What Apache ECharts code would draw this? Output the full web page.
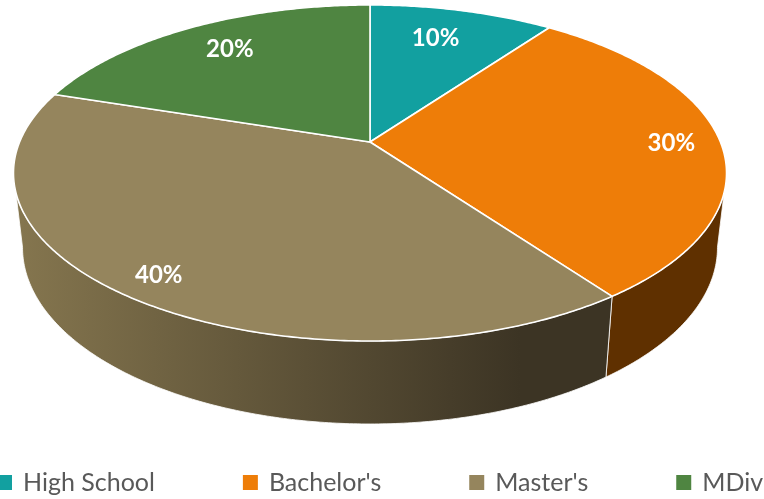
<!DOCTYPE html>
<html><head><meta charset="utf-8">
<style>html,body{margin:0;padding:0;background:#fff}#c{width:764px;height:499px}</style>
<script src="https://cdn.jsdelivr.net/npm/echarts@6/dist/echarts.min.js"></script>
</head><body><div id="c"></div>
<script>
const categories = ["High School", "Bachelor's", "Master's", "MDiv"];
const values = [10, 30, 40, 20];
const topColors = ["#12A0A0", "#EE7D08", "#95855D", "#4F8541"];
const wallStarts = ["#0a5a5a", "#5F3000", "#84754E", "#2c4a24"];
const wallEnds = ["#0a5a5a", "#5F3000", "#3C3424", "#2c4a24"];

// Perspective projection of the unit disc (top and bottom faces)
const K = 0.1845;
const TOP = {cx: 370, cy: 142, a: 350.4, b: 162.3};
const BOT = {cx: 370, cy: 214.9, a: 341.5, b: 170.5};
const labelRadius = [0.76, 0.86, 0.875, 0.80];
const labelNudgeX = [-7, 0, -4, 7];
const labelNudgeY = [0, 1, 1, 1];
const FRONT_A = Math.PI/2 + Math.asin(K), FRONT_B = 3*Math.PI/2 - Math.asin(K);

function project(F, t, r) {
  const u = Math.sin(t)*r, v = Math.cos(t)*r, w = 1 + K*v;
  return [F.cx + F.a*u/w, F.cy - F.b*v/w];
}
function arc(F, a, b) {
  const n = Math.max(2, Math.ceil((b-a)/0.01)), pts = [];
  for (let i = 0; i <= n; i++) pts.push(project(F, a + (b-a)*i/n, 1));
  return pts;
}
const total = values.reduce((s, v) => s + v, 0);
function startOf(i) {
  let s = 0; for (let j = 0; j < i; j++) s += values[j];
  return s / total * 2 * Math.PI;
}
function makeRender(i) {
  return function (params, api) {
    const v = api.value(0);
    const a = startOf(i), b = a + v/total*2*Math.PI, mid = (a+b)/2;
    const children = [];
    const wa = Math.max(a, FRONT_A), wb = Math.min(b, FRONT_B);
    if (wb > wa) {
      const pts = arc(TOP, wa, wb).concat(arc(BOT, wa, wb).reverse());
      children.push({type: 'polygon', shape: {points: pts}, style: {
        fill: {type: 'linear', x: 22, y: 0, x2: 520, y2: 0, global: true,
               colorStops: [{offset: 0, color: wallStarts[i]}, {offset: 1, color: wallEnds[i]}]},
        stroke: '#fff', lineWidth: 0.8, lineJoin: 'round'}});
    }
    const top = [project(TOP, a, 0)].concat(arc(TOP, a, b));
    children.push({type: 'polygon', shape: {points: top}, style: {
      fill: topColors[i], stroke: '#fff', lineWidth: 1.6, lineJoin: 'round'}});
    const p = project(TOP, mid, labelRadius[i]);
    children.push({type: 'text', z2: 10, style: {
      text: Math.round(v/total*100) + '%', x: p[0] + labelNudgeX[i], y: p[1] + labelNudgeY[i],
      align: 'center', verticalAlign: 'middle',
      fill: '#fff', font: '700 24px Lato'}});
    return {type: 'group', children};
  };
}
const chart = echarts.init(document.getElementById('c'), null, {renderer: 'canvas'});
chart.setOption({
  animation: false,
  legend: {
    data: categories, left: -3, top: 470, padding: 0, itemGap: 88, itemWidth: 15, itemHeight: 15,
    icon: 'rect', selectedMode: false,
    textStyle: {fontFamily: 'Lato', fontSize: 25, color: '#595959', padding: [0, 0, 0, 6]}
  },
  series: categories.map((name, i) => ({
    type: 'custom', name, coordinateSystem: 'none', silent: true,
    itemStyle: {color: topColors[i]},
    data: [[values[i]]],
    renderItem: makeRender(i)
  }))
});
</script></body></html>
